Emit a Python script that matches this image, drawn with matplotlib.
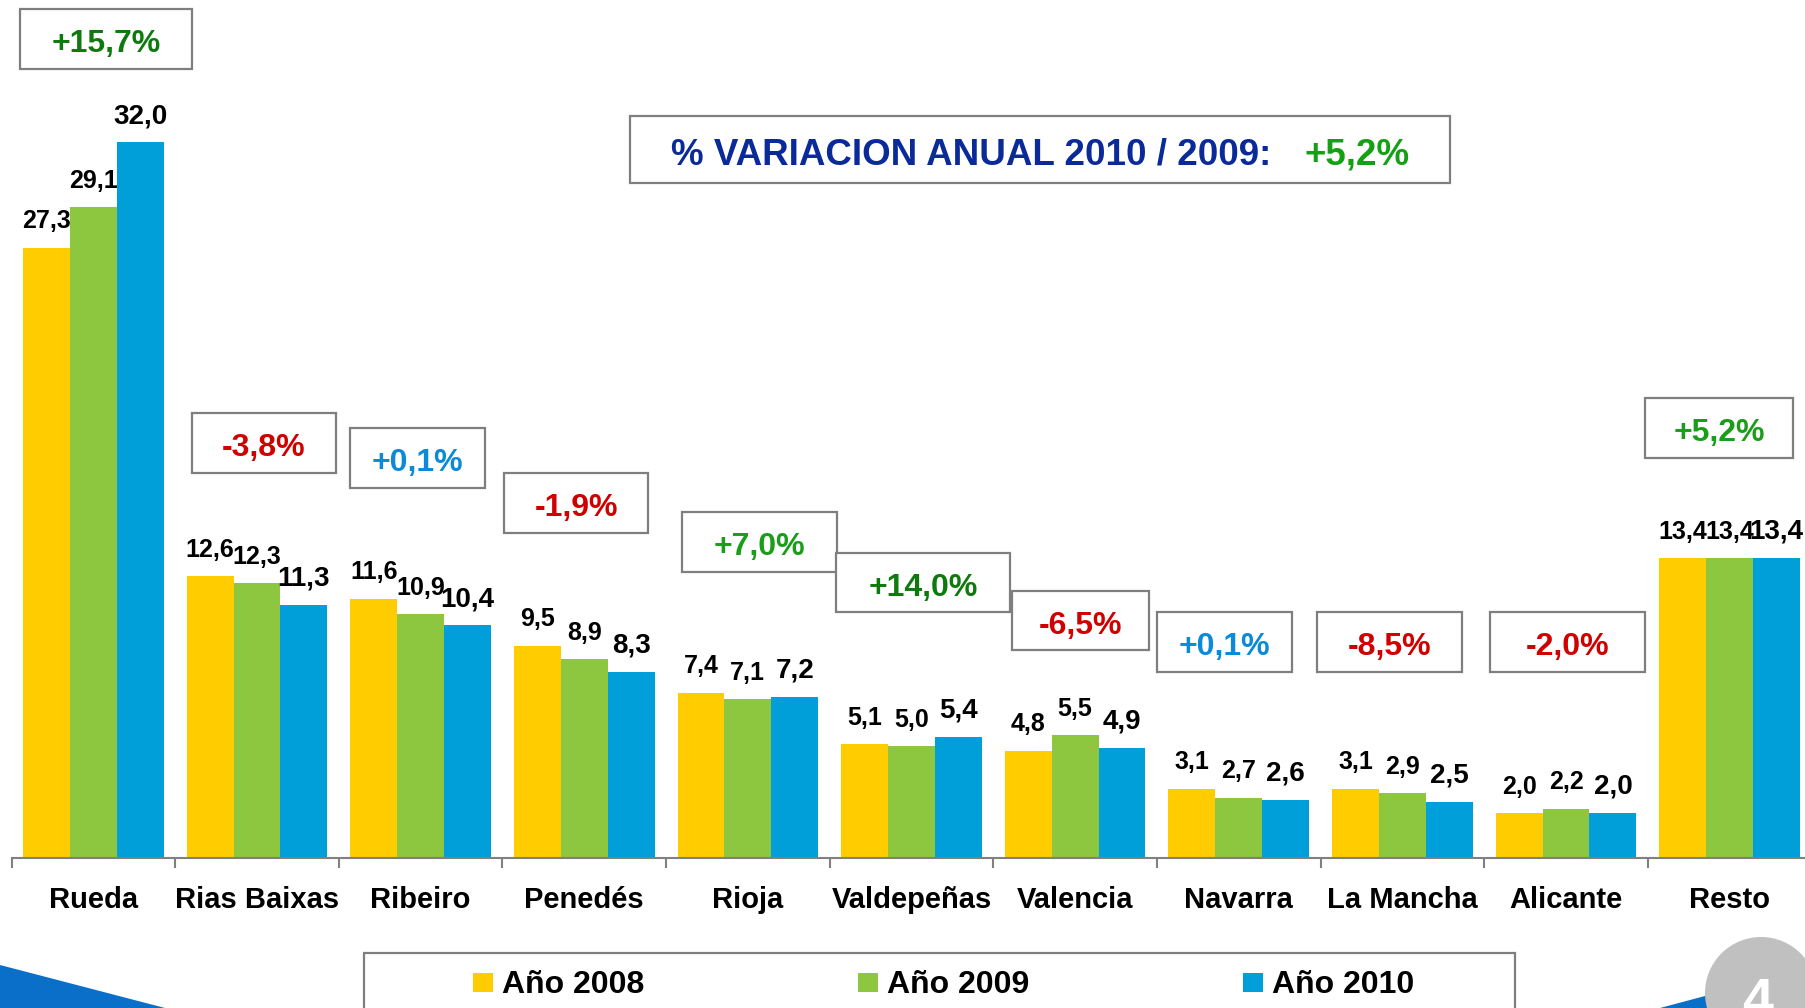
import matplotlib.pyplot as plt
import matplotlib.patches as mpatches
import numpy as np

plt.rcParams['font.family'] = ['Liberation Sans', 'DejaVu Sans']
plt.rcParams['font.weight'] = 'bold'

# datos
categorias = ['Rueda', 'Rias Baixas', 'Ribeiro', 'Penedés', 'Rioja', 'Valdepeñas',
              'Valencia', 'Navarra', 'La Mancha', 'Alicante', 'Resto']
anio_2008 = [27.3, 12.6, 11.6, 9.5, 7.4, 5.1, 4.8, 3.1, 3.1, 2.0, 13.4]
anio_2009 = [29.1, 12.3, 10.9, 8.9, 7.1, 5.0, 5.5, 2.7, 2.9, 2.2, 13.4]
anio_2010 = [32.0, 11.3, 10.4, 8.3, 7.2, 5.4, 4.9, 2.6, 2.5, 2.0, 13.4]
variacion = [15.7, -3.8, 0.1, -1.9, 7.0, 14.0, -6.5, 0.1, -8.5, -2.0, 5.2]
variacion_total = 5.2
series = ['Año 2008', 'Año 2009', 'Año 2010']

colores = ['#FFCC00', '#8DC63F', '#009FDA']

# posiciones de las cajas de % (centro x, centro y, ancho en unidades de datos)
caja_x = [0.077, 1.043, 1.982, 2.950, 4.071, 5.070, 6.034, 6.915, 7.920, 9.011, 9.934]
caja_y = [36.63, 18.56, 17.89, 15.88, 14.13, 12.32, 10.62, 9.66, 9.66, 9.66, 19.23]
caja_w = [1.05, 0.88, 0.825, 0.88, 0.95, 1.06, 0.837, 0.825, 0.89, 0.947, 0.9]
caja_h = 2.68

W, H = 1805, 1008


def px(x, y):
    # pixeles (desde arriba a la izquierda) a fraccion de figura
    return x / W, 1 - y / H


def fmt(v):
    return f'{v:.1f}'.replace('.', ',')


def color_pct(v):
    if abs(v) < 1:
        return '#0A8AD8'
    if v < 0:
        return '#D00000'
    if v >= 10:
        return '#0E7A0E'
    return '#1A9E1A'


fig = plt.figure(figsize=(W / 100, H / 100), dpi=100)
ax = fig.add_axes([11.5 / W, 150 / H, 1800 / W, 38 * 22.36 / H])

x = np.arange(len(categorias))
ancho = 0.2865
for i, (vals, c) in enumerate(zip([anio_2008, anio_2009, anio_2010], colores)):
    pos = x + (i - 1) * ancho
    ax.bar(pos, vals, ancho, color=c, zorder=2)
    size = 20 if i == 2 else 18
    for xp, v in zip(pos, vals):
        ax.annotate(fmt(v), (xp, v), xytext=(0, 14), textcoords='offset points',
                    ha='center', va='baseline', fontsize=size, fontweight='bold')

# cajas de variacion
for cx, cy, cw, v in zip(caja_x, caja_y, caja_w, variacion):
    ax.add_patch(mpatches.Rectangle((cx - cw / 2, cy - caja_h / 2), cw, caja_h,
                                    facecolor='white', edgecolor='#7F7F7F',
                                    linewidth=1.6, zorder=3, clip_on=False))
    txt = ('+' if v >= 0 else '') + fmt(v) + '%'
    ax.text(cx, cy - 0.6, txt, ha='center', va='baseline', fontsize=23,
            fontweight='bold', color=color_pct(v), zorder=4)

ax.set_xlim(-0.5, 10.5)
ax.set_ylim(0, 38)
for s in ['top', 'right', 'left']:
    ax.spines[s].set_visible(False)
ax.spines['bottom'].set_color('#808080')
ax.spines['bottom'].set_linewidth(1.5)
ax.set_yticks([])
ax.set_xticks(x)
ax.set_xticklabels(categorias, fontsize=21, fontweight='bold')
ax.tick_params(axis='x', which='major', length=0, pad=20.5)
ax.set_xticks(np.arange(-0.5, 11, 1), minor=True)
ax.tick_params(axis='x', which='minor', length=7, width=1.5, color='#808080')

# titulo
x0, y0 = px(630, 183)
x1, y1 = px(1450, 116)
fig.patches.append(mpatches.Rectangle((x0, y0), x1 - x0, y1 - y0, transform=fig.transFigure,
                                      facecolor='white', edgecolor='#7F7F7F', linewidth=1.6))
tx, ty = px(671, 164.5)
fig.text(tx, ty, '% VARIACION ANUAL 2010 / 2009:', fontsize=26.5, fontweight='bold',
         color='#0A2A9A', va='baseline', ha='left')
tx2, _ = px(1304, 0)
fig.text(tx2, ty, '+' + fmt(variacion_total) + '%', fontsize=26.5, fontweight='bold',
         color='#13A013', va='baseline', ha='left')

# leyenda
lx0, ly0 = px(364, 1020)
lx1, ly1 = px(1515, 953)
fig.patches.append(mpatches.Rectangle((lx0, ly0), lx1 - lx0, ly1 - ly0, transform=fig.transFigure,
                                      facecolor='white', edgecolor='#7F7F7F', linewidth=1.6))
for nombre, c, sx in zip(series, colores, [473, 858, 1243]):
    qx, qy = px(sx, 992)
    fig.patches.append(mpatches.Rectangle((qx, qy), 20 / W, 19 / H, transform=fig.transFigure,
                                          facecolor=c, edgecolor='none'))
    ttx, tty = px(sx + 29, 993)
    fig.text(ttx, tty, nombre, fontsize=23, fontweight='bold', va='baseline', ha='left')

# decoracion: cuña azul y circulo con numero de pagina
fig.patches.append(mpatches.Polygon([px(0, 965), px(165, 1008), px(0, 1008)], closed=True,
                                    transform=fig.transFigure, facecolor='#0A6FC8',
                                    edgecolor='none'))
fig.patches.append(mpatches.Polygon([px(1660, 1008), px(1720, 992), px(1720, 1008)], closed=True,
                                    transform=fig.transFigure, facecolor='#0A6FC8',
                                    edgecolor='none'))
fig.patches.append(mpatches.Circle((17.61, (H - 993) / 100), 0.56, transform=fig.dpi_scale_trans,
                                   facecolor='#C0C0C0', edgecolor='none'))
nx, ny = px(1758, 1017)
fig.text(nx, ny, '4', fontsize=40, fontweight='bold', color='white', ha='center', va='baseline')

fig.savefig('out.png', dpi=100)
